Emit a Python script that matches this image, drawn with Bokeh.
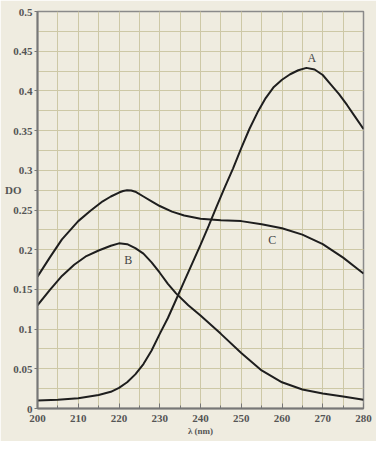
import numpy as np
from bokeh.plotting import figure
from bokeh.models import FixedTicker, Label, Range1d
from bokeh.embed import file_html
from bokeh.resources import INLINE

wl_A = [200, 205, 210, 215, 218, 220, 222, 224, 226, 228, 230, 232, 234, 236, 238, 240, 242, 244, 246, 248, 250, 252, 254, 256, 258, 260, 262, 264, 266, 268, 270, 272, 274, 276, 278, 280]
od_A = [0.01, 0.011, 0.013, 0.017, 0.021, 0.026, 0.033, 0.043, 0.056, 0.073, 0.094, 0.114, 0.137, 0.16, 0.183, 0.206, 0.23, 0.255, 0.279, 0.3025, 0.328, 0.352, 0.373, 0.391, 0.405, 0.414, 0.421, 0.426, 0.429, 0.427, 0.42, 0.408, 0.396, 0.382, 0.367, 0.352]

wl_B = [200, 203, 206, 209, 212, 215, 218, 220, 222, 224, 226, 228, 230, 232, 234, 237, 240, 245, 250, 255, 260, 265, 270, 275, 280]
od_B = [0.13, 0.149, 0.167, 0.181, 0.192, 0.199, 0.205, 0.208, 0.207, 0.202, 0.195, 0.184, 0.171, 0.157, 0.145, 0.13, 0.117, 0.094, 0.07, 0.048, 0.033, 0.024, 0.019, 0.015, 0.011]

wl_C = [200, 203, 206, 210, 213, 216, 218, 220, 221, 222, 223, 224, 226, 228, 230, 233, 236, 240, 245, 250, 255, 260, 265, 270, 275, 280]
od_C = [0.166, 0.19, 0.213, 0.236, 0.249, 0.261, 0.267, 0.272, 0.274, 0.275, 0.2745, 0.273, 0.267, 0.261, 0.255, 0.248, 0.243, 0.239, 0.237, 0.236, 0.232, 0.227, 0.219, 0.207, 0.19, 0.17]

curve_labels = ["A", "B", "C"]
label_x = [267.3, 222.3, 257.6]
label_y = [0.441, 0.187, 0.212]

x_ticks = list(range(200, 281, 10))
x_minor = list(range(200, 281, 5))
y_ticks = [0, 0.05, 0.1, 0.15, 0.2, 0.25, 0.3, 0.35, 0.4, 0.45, 0.5]
y_minor = [i * 0.025 for i in range(21)]
y_tick_text = {0: "0", 0.05: "0.05", 0.1: "0.1", 0.15: "0.15", 0.2: "0.2", 0.25: "0.25",
               0.3: "0.3", 0.35: "0.35", 0.4: "0.4", 0.45: "0.45", 0.5: "0.5"}
y_title = "DO"
y_title_pos = 0.275

p = figure(width=376, height=441, output_backend="svg", toolbar_location=None,
           x_range=Range1d(200, 280), y_range=Range1d(0, 0.5),
           min_border_left=37, min_border_right=13, min_border_top=11, min_border_bottom=33)

bg = "#efece0"
p.background_fill_color = bg
p.border_fill_color = bg
p.outline_line_color = "#8a8a8a"
p.outline_line_width = 1.5

# y title shown at its own tick position, shifted left with non-breaking spaces
overrides = dict(y_tick_text)
overrides[y_title_pos] = y_title + "\u00a0" * 4
p.xaxis.ticker = FixedTicker(ticks=x_ticks, minor_ticks=x_minor)
p.yaxis.ticker = FixedTicker(ticks=y_ticks + [y_title_pos], minor_ticks=y_minor)
p.yaxis.major_label_overrides = overrides

grid_col = "#cdc8a6"
for g in (p.xgrid, p.ygrid):
    g.grid_line_color = grid_col
    g.grid_line_width = 1
    g.minor_grid_line_color = grid_col
    g.minor_grid_line_width = 1

for ax in (p.xaxis, p.yaxis):
    ax.axis_line_color = "#777777"
    ax.axis_line_width = 2
    ax.major_tick_line_color = "#777777"
    ax.minor_tick_line_color = "#777777"
    ax.major_label_text_font = "Liberation Serif"
    ax.major_label_text_font_size = "11px"
    ax.major_label_text_color = "#555555"
    ax.major_label_text_font_style = "bold"

p.xaxis.major_tick_in = 5
p.xaxis.major_tick_out = 0
p.xaxis.minor_tick_in = 3
p.xaxis.minor_tick_out = 0
p.xaxis.major_label_standoff = 6
p.yaxis.major_tick_in = 0
p.yaxis.major_tick_out = 3
p.yaxis.minor_tick_in = 0
p.yaxis.minor_tick_out = 0
p.yaxis.major_label_standoff = 2

p.xaxis.axis_label = "λ (nm)"
p.xaxis.axis_label_text_font = "Liberation Serif"
p.xaxis.axis_label_text_font_size = "9px"
p.xaxis.axis_label_text_font_style = "bold"
p.xaxis.axis_label_text_color = "#555555"
p.xaxis.axis_label_standoff = 1

line_col = "#1e1e1e"
p.line(wl_A, od_A, line_color=line_col, line_width=2)
p.line(wl_B, od_B, line_color=line_col, line_width=2)
p.line(wl_C, od_C, line_color=line_col, line_width=2)

for t, lx, ly in zip(curve_labels, label_x, label_y):
    p.add_layout(Label(x=lx, y=ly, text=t, text_font="Liberation Serif", text_font_size="12px",
                       text_color="#444444", text_align="center", text_baseline="middle"))

open("out.html", "w").write(file_html(p, INLINE))
